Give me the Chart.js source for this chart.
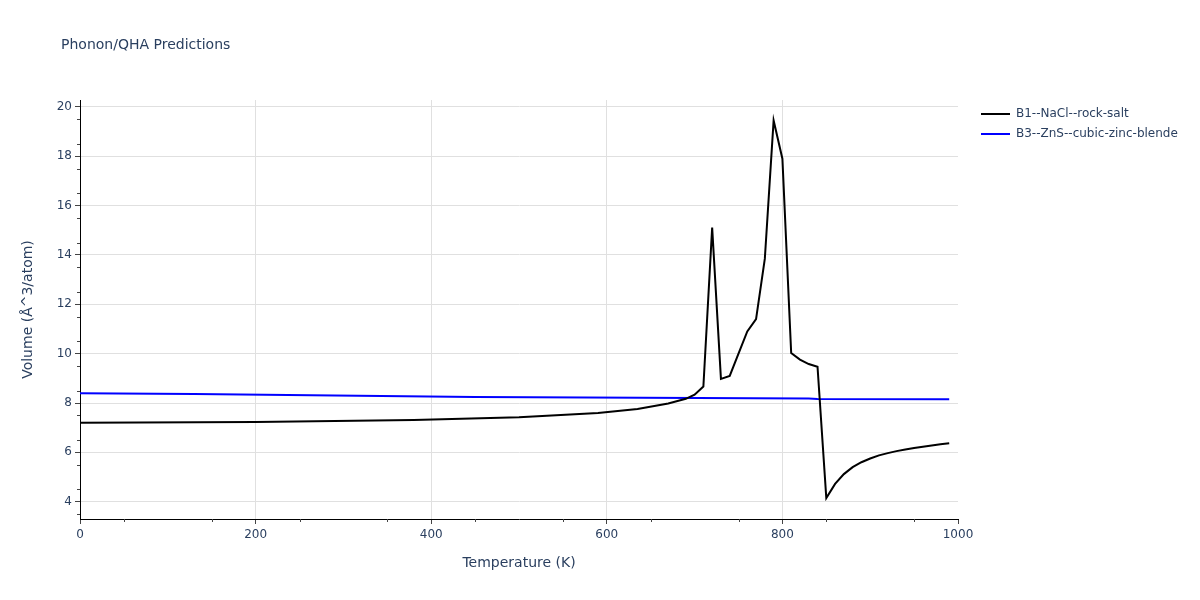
<!DOCTYPE html>
<html>
<head>
<meta charset="utf-8">
<script src="https://cdn.jsdelivr.net/npm/chart.js@4/dist/chart.umd.min.js"></script>
<style>
  body { margin: 0; background: #fff; }
  #chart { display: block; }
</style>
</head>
<body>
<canvas id="chart" width="1200" height="600"></canvas>
<script>
"use strict";

// B1 rock salt, temperature (K) and volume
var rockSaltT = [0, 200, 380, 500, 590, 635, 670, 690, 700, 710, 720, 730, 740, 750, 760, 770, 780, 790, 800, 810,
  820, 830, 840, 850, 860, 870, 880, 890, 900, 910, 920, 930, 940, 950, 960, 970, 980, 990];
var rockSaltV = [7.2, 7.23, 7.31, 7.42, 7.6, 7.76, 7.98, 8.17, 8.34, 8.67, 15.11, 8.98, 9.1, 10.0, 10.9, 11.4, 13.85, 19.45, 17.9, 10.03,
  9.76, 9.58, 9.47, 4.15, 4.72, 5.12, 5.4, 5.6, 5.75, 5.88, 5.97, 6.05, 6.12, 6.18, 6.23, 6.28, 6.33, 6.37];

// B3 zinc blende
var zincBlendeT = [0, 130, 450, 830, 840, 990];
var zincBlendeV = [8.4, 8.37, 8.24, 8.18, 8.16, 8.15];

var xTicks = [0, 200, 400, 600, 800, 1000];
var yTicks = [4, 6, 8, 10, 12, 14, 16, 18, 20];

var textColor = "#2a3f5f";
var fontFamily = "'DejaVu Sans', verdana, arial, sans-serif";

function toPoints(xs, ys) {
  return xs.map(function (x, i) { return { x: x, y: ys[i] }; });
}

var series = [
  { label: "B1--NaCl--rock-salt", color: "#000000", data: toPoints(rockSaltT, rockSaltV) },
  { label: "B3--ZnS--cubic-zinc-blende", color: "#0000ff", data: toPoints(zincBlendeT, zincBlendeV) },
];

// title, axis titles, legend and minor ticks
var extras = {
  id: "extras",
  afterDraw: function (chart) {
    var c = chart.ctx;
    var area = chart.chartArea;
    var xs = chart.scales.x;
    var ys = chart.scales.y;
    c.save();

    // minor ticks
    c.strokeStyle = "#444";
    c.lineWidth = 1;
    c.beginPath();
    for (var t = 50; t < 1000; t += 100) {
      var px = Math.round(xs.getPixelForValue(t)) + 0.5;
      c.moveTo(px, area.bottom);
      c.lineTo(px, area.bottom + 3);
    }
    for (var v = 3.5; v <= 20.01; v += 1) {
      var py = Math.round(ys.getPixelForValue(v)) + 0.5;
      c.moveTo(area.left, py);
      c.lineTo(area.left - 3, py);
    }
    c.stroke();

    c.fillStyle = textColor;
    c.textBaseline = "middle";

    // title
    c.font = "14px " + fontFamily;
    c.textAlign = "left";
    c.fillText("Phonon/QHA Predictions", 61, 45);

    // axis titles
    c.font = "14px " + fontFamily;
    c.textAlign = "center";
    c.fillText("Temperature (K)", (area.left + area.right) / 2, 563);
    c.save();
    c.translate(28, (area.top + area.bottom) / 2);
    c.rotate(-Math.PI / 2);
    c.fillText("Volume (Å^3/atom)", 0, 0);
    c.restore();

    // legend
    c.font = "12px " + fontFamily;
    c.textAlign = "left";
    series.forEach(function (s, i) {
      var ly = 114 + i * 20;
      c.strokeStyle = s.color;
      c.lineWidth = 2;
      c.beginPath();
      c.moveTo(981, ly);
      c.lineTo(1010, ly);
      c.stroke();
      c.fillText(s.label, 1016, ly);
    });

    c.restore();
  },
};

var ctx = document.getElementById("chart");

var myChart = new Chart(ctx, {
  type: "line",
  data: {
    datasets: series.map(function (s) {
      return {
        label: s.label,
        data: s.data,
        borderColor: s.color,
        backgroundColor: s.color,
        borderWidth: 2,
        pointRadius: 0,
        tension: 0,
        fill: false,
      };
    }),
  },
  options: {
    responsive: false,
    animation: false,
    layout: { padding: { left: 0, top: 100, right: 242, bottom: 0 } },
    plugins: {
      legend: { display: false },
      title: { display: false },
      tooltip: { enabled: false },
    },
    scales: {
      x: {
        type: "linear",
        min: 0,
        max: 1000,
        afterBuildTicks: function (scale) {
          scale.ticks = xTicks.map(function (v) { return { value: v }; });
        },
        afterFit: function (scale) { scale.height = 81; },
        grid: {
          color: function (context) {
            var v = context.tick ? context.tick.value : 0;
            return v === 0 || v === 1000 ? "rgba(0,0,0,0)" : "#e0e0e0";
          },
          tickColor: "#444",
          tickLength: 5,
        },
        border: { display: true, color: "#000", width: 1 },
        ticks: {
          color: textColor,
          font: { family: fontFamily, size: 12 },
          padding: 4,
          maxRotation: 0,
          callback: function (value) { return String(value); },
        },
      },
      y: {
        type: "linear",
        min: 3.3,
        max: 20.28,
        afterBuildTicks: function (scale) {
          scale.ticks = yTicks.map(function (v) { return { value: v }; });
        },
        afterFit: function (scale) { scale.width = 80; },
        grid: {
          color: "#e0e0e0",
          tickColor: "#444",
          tickLength: 5,
        },
        border: { display: true, color: "#000", width: 1 },
        ticks: {
          color: textColor,
          font: { family: fontFamily, size: 12 },
          padding: 3,
          callback: function (value) { return String(value); },
        },
      },
    },
  },
  plugins: [extras],
});
</script>
</body>
</html>
